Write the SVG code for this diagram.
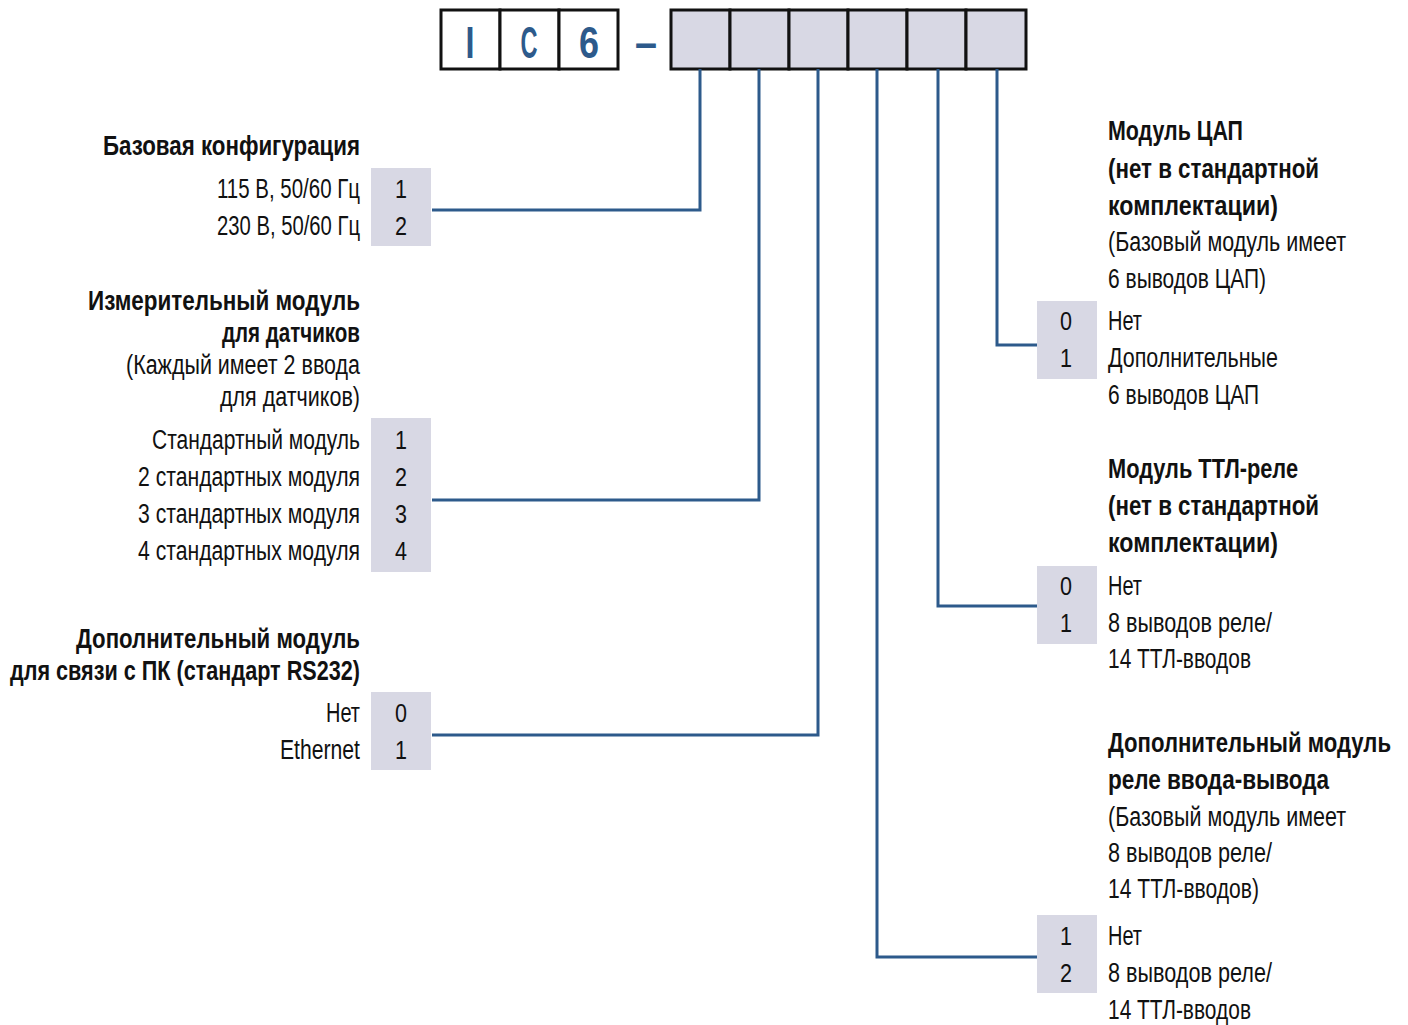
<svg xmlns="http://www.w3.org/2000/svg" width="1408" height="1025" viewBox="0 0 1408 1025">
  <style>
    text { font-family: "Liberation Sans Narrow", "Liberation Sans", "DejaVu Sans Condensed", sans-serif; font-size: 27px; fill: #111; }
    .b { font-weight: bold; }
    .r { text-anchor: end; }
    .c { text-anchor: middle; font-size: 26px; }
    .code { font-weight: bold; font-size: 44px; fill: #2d5a8b; text-anchor: middle; }
    .cell { fill: #ffffff; stroke: #111; stroke-width: 3; }
    .slot { fill: #d8d8e4; stroke: #111; stroke-width: 3; }
    .opt { fill: #d8d8e4; }
    .wire { fill: none; stroke: #2d5a8b; stroke-width: 3; }
  </style>

  <!-- model code header: fixed part IC6 and six option slots -->
  <g id="code-fixed">
    <rect class="cell" x="441" y="10" width="59" height="59"/>
    <rect class="cell" x="500" y="10" width="59" height="59"/>
    <rect class="cell" x="559" y="10" width="59" height="59"/>
    <text class="code" x="470" y="58" textLength="9" lengthAdjust="spacingAndGlyphs">I</text>
    <text class="code" x="529" y="58" textLength="17" lengthAdjust="spacingAndGlyphs">C</text>
    <text class="code" x="589" y="58" textLength="20" lengthAdjust="spacingAndGlyphs">6</text>
    <text class="code" x="646" y="58" textLength="22" lengthAdjust="spacingAndGlyphs">–</text>
  </g>
  <g id="code-slots">
    <rect class="slot" x="671" y="10" width="59" height="59"/>
    <rect class="slot" x="730" y="10" width="59" height="59"/>
    <rect class="slot" x="789" y="10" width="59" height="59"/>
    <rect class="slot" x="848" y="10" width="59" height="59"/>
    <rect class="slot" x="907" y="10" width="59" height="59"/>
    <rect class="slot" x="966" y="10" width="60" height="59"/>
  </g>

  <!-- connectors from each slot to its option table -->
  <g id="connectors">
    <polyline class="wire" points="700,69 700,210 432,210"/>
    <polyline class="wire" points="759,69 759,500 432,500"/>
    <polyline class="wire" points="818,69 818,735 432,735"/>
    <polyline class="wire" points="877,69 877,957 1037,957"/>
    <polyline class="wire" points="938,69 938,606 1037,606"/>
    <polyline class="wire" points="997,69 997,345 1037,345"/>
  </g>

  <!-- base configuration -->
  <g id="base-config">
    <text class="b r" x="360" y="155" textLength="257" lengthAdjust="spacingAndGlyphs">Базовая конфигурация</text>
    <rect class="opt" x="371" y="168" width="60" height="78"/>
    <text class="r" x="360" y="198" textLength="143" lengthAdjust="spacingAndGlyphs">115 В, 50/60 Гц</text>
    <text class="r" x="360" y="235" textLength="143" lengthAdjust="spacingAndGlyphs">230 В, 50/60 Гц</text>
    <text class="c" x="401" y="198" textLength="12" lengthAdjust="spacingAndGlyphs">1</text>
    <text class="c" x="401" y="235" textLength="12" lengthAdjust="spacingAndGlyphs">2</text>
  </g>

  <!-- sensor measurement module -->
  <g id="sensor-module">
    <text class="b r" x="360" y="310" textLength="272" lengthAdjust="spacingAndGlyphs">Измерительный модуль</text>
    <text class="b r" x="360" y="342" textLength="138" lengthAdjust="spacingAndGlyphs">для датчиков</text>
    <text class="r" x="360" y="374" textLength="234" lengthAdjust="spacingAndGlyphs">(Каждый имеет 2 ввода</text>
    <text class="r" x="360" y="406" textLength="140" lengthAdjust="spacingAndGlyphs">для датчиков)</text>
    <rect class="opt" x="371" y="418" width="60" height="154"/>
    <text class="r" x="360" y="449" textLength="208" lengthAdjust="spacingAndGlyphs">Стандартный модуль</text>
    <text class="r" x="360" y="486" textLength="222" lengthAdjust="spacingAndGlyphs">2 стандартных модуля</text>
    <text class="r" x="360" y="523" textLength="222" lengthAdjust="spacingAndGlyphs">3 стандартных модуля</text>
    <text class="r" x="360" y="560" textLength="222" lengthAdjust="spacingAndGlyphs">4 стандартных модуля</text>
    <text class="c" x="401" y="449" textLength="12" lengthAdjust="spacingAndGlyphs">1</text>
    <text class="c" x="401" y="486" textLength="12" lengthAdjust="spacingAndGlyphs">2</text>
    <text class="c" x="401" y="523" textLength="12" lengthAdjust="spacingAndGlyphs">3</text>
    <text class="c" x="401" y="560" textLength="12" lengthAdjust="spacingAndGlyphs">4</text>
  </g>

  <!-- PC communication module -->
  <g id="pc-comm-module">
    <text class="b r" x="360" y="648" textLength="284" lengthAdjust="spacingAndGlyphs">Дополнительный модуль</text>
    <text class="b r" x="360" y="680" textLength="350" lengthAdjust="spacingAndGlyphs">для связи с ПК (стандарт RS232)</text>
    <rect class="opt" x="371" y="692" width="60" height="78"/>
    <text class="r" x="360" y="722" textLength="34" lengthAdjust="spacingAndGlyphs">Нет</text>
    <text class="r" x="360" y="759" textLength="80" lengthAdjust="spacingAndGlyphs">Ethernet</text>
    <text class="c" x="401" y="722" textLength="12" lengthAdjust="spacingAndGlyphs">0</text>
    <text class="c" x="401" y="759" textLength="12" lengthAdjust="spacingAndGlyphs">1</text>
  </g>

  <!-- DAC module -->
  <g id="dac-module">
    <text class="b" x="1108" y="140" textLength="135" lengthAdjust="spacingAndGlyphs">Модуль ЦАП</text>
    <text class="b" x="1108" y="178" textLength="211" lengthAdjust="spacingAndGlyphs">(нет в стандартной</text>
    <text class="b" x="1108" y="215" textLength="170" lengthAdjust="spacingAndGlyphs">комплектации)</text>
    <text x="1108" y="251" textLength="238" lengthAdjust="spacingAndGlyphs">(Базовый модуль имеет</text>
    <text x="1108" y="288" textLength="158" lengthAdjust="spacingAndGlyphs">6 выводов ЦАП)</text>
    <rect class="opt" x="1037" y="301" width="60" height="78"/>
    <text class="c" x="1066" y="330" textLength="12" lengthAdjust="spacingAndGlyphs">0</text>
    <text class="c" x="1066" y="367" textLength="12" lengthAdjust="spacingAndGlyphs">1</text>
    <text x="1108" y="330" textLength="34" lengthAdjust="spacingAndGlyphs">Нет</text>
    <text x="1108" y="367" textLength="170" lengthAdjust="spacingAndGlyphs">Дополнительные</text>
    <text x="1108" y="404" textLength="151" lengthAdjust="spacingAndGlyphs">6 выводов ЦАП</text>
  </g>

  <!-- TTL relay module -->
  <g id="ttl-relay-module">
    <text class="b" x="1108" y="478" textLength="190" lengthAdjust="spacingAndGlyphs">Модуль ТТЛ-реле</text>
    <text class="b" x="1108" y="515" textLength="211" lengthAdjust="spacingAndGlyphs">(нет в стандартной</text>
    <text class="b" x="1108" y="552" textLength="170" lengthAdjust="spacingAndGlyphs">комплектации)</text>
    <rect class="opt" x="1037" y="566" width="60" height="78"/>
    <text class="c" x="1066" y="595" textLength="12" lengthAdjust="spacingAndGlyphs">0</text>
    <text class="c" x="1066" y="632" textLength="12" lengthAdjust="spacingAndGlyphs">1</text>
    <text x="1108" y="595" textLength="34" lengthAdjust="spacingAndGlyphs">Нет</text>
    <text x="1108" y="632" textLength="164" lengthAdjust="spacingAndGlyphs">8 выводов реле/</text>
    <text x="1108" y="668" textLength="143" lengthAdjust="spacingAndGlyphs">14 ТТЛ-вводов</text>
  </g>

  <!-- I/O relay module -->
  <g id="io-relay-module">
    <text class="b" x="1108" y="752" textLength="283" lengthAdjust="spacingAndGlyphs">Дополнительный модуль</text>
    <text class="b" x="1108" y="789" textLength="221" lengthAdjust="spacingAndGlyphs">реле ввода-вывода</text>
    <text x="1108" y="826" textLength="238" lengthAdjust="spacingAndGlyphs">(Базовый модуль имеет</text>
    <text x="1108" y="862" textLength="164" lengthAdjust="spacingAndGlyphs">8 выводов реле/</text>
    <text x="1108" y="898" textLength="151" lengthAdjust="spacingAndGlyphs">14 ТТЛ-вводов)</text>
    <rect class="opt" x="1037" y="915" width="60" height="78"/>
    <text class="c" x="1066" y="945" textLength="12" lengthAdjust="spacingAndGlyphs">1</text>
    <text class="c" x="1066" y="982" textLength="12" lengthAdjust="spacingAndGlyphs">2</text>
    <text x="1108" y="945" textLength="34" lengthAdjust="spacingAndGlyphs">Нет</text>
    <text x="1108" y="982" textLength="164" lengthAdjust="spacingAndGlyphs">8 выводов реле/</text>
    <text x="1108" y="1019" textLength="143" lengthAdjust="spacingAndGlyphs">14 ТТЛ-вводов</text>
  </g>
</svg>
